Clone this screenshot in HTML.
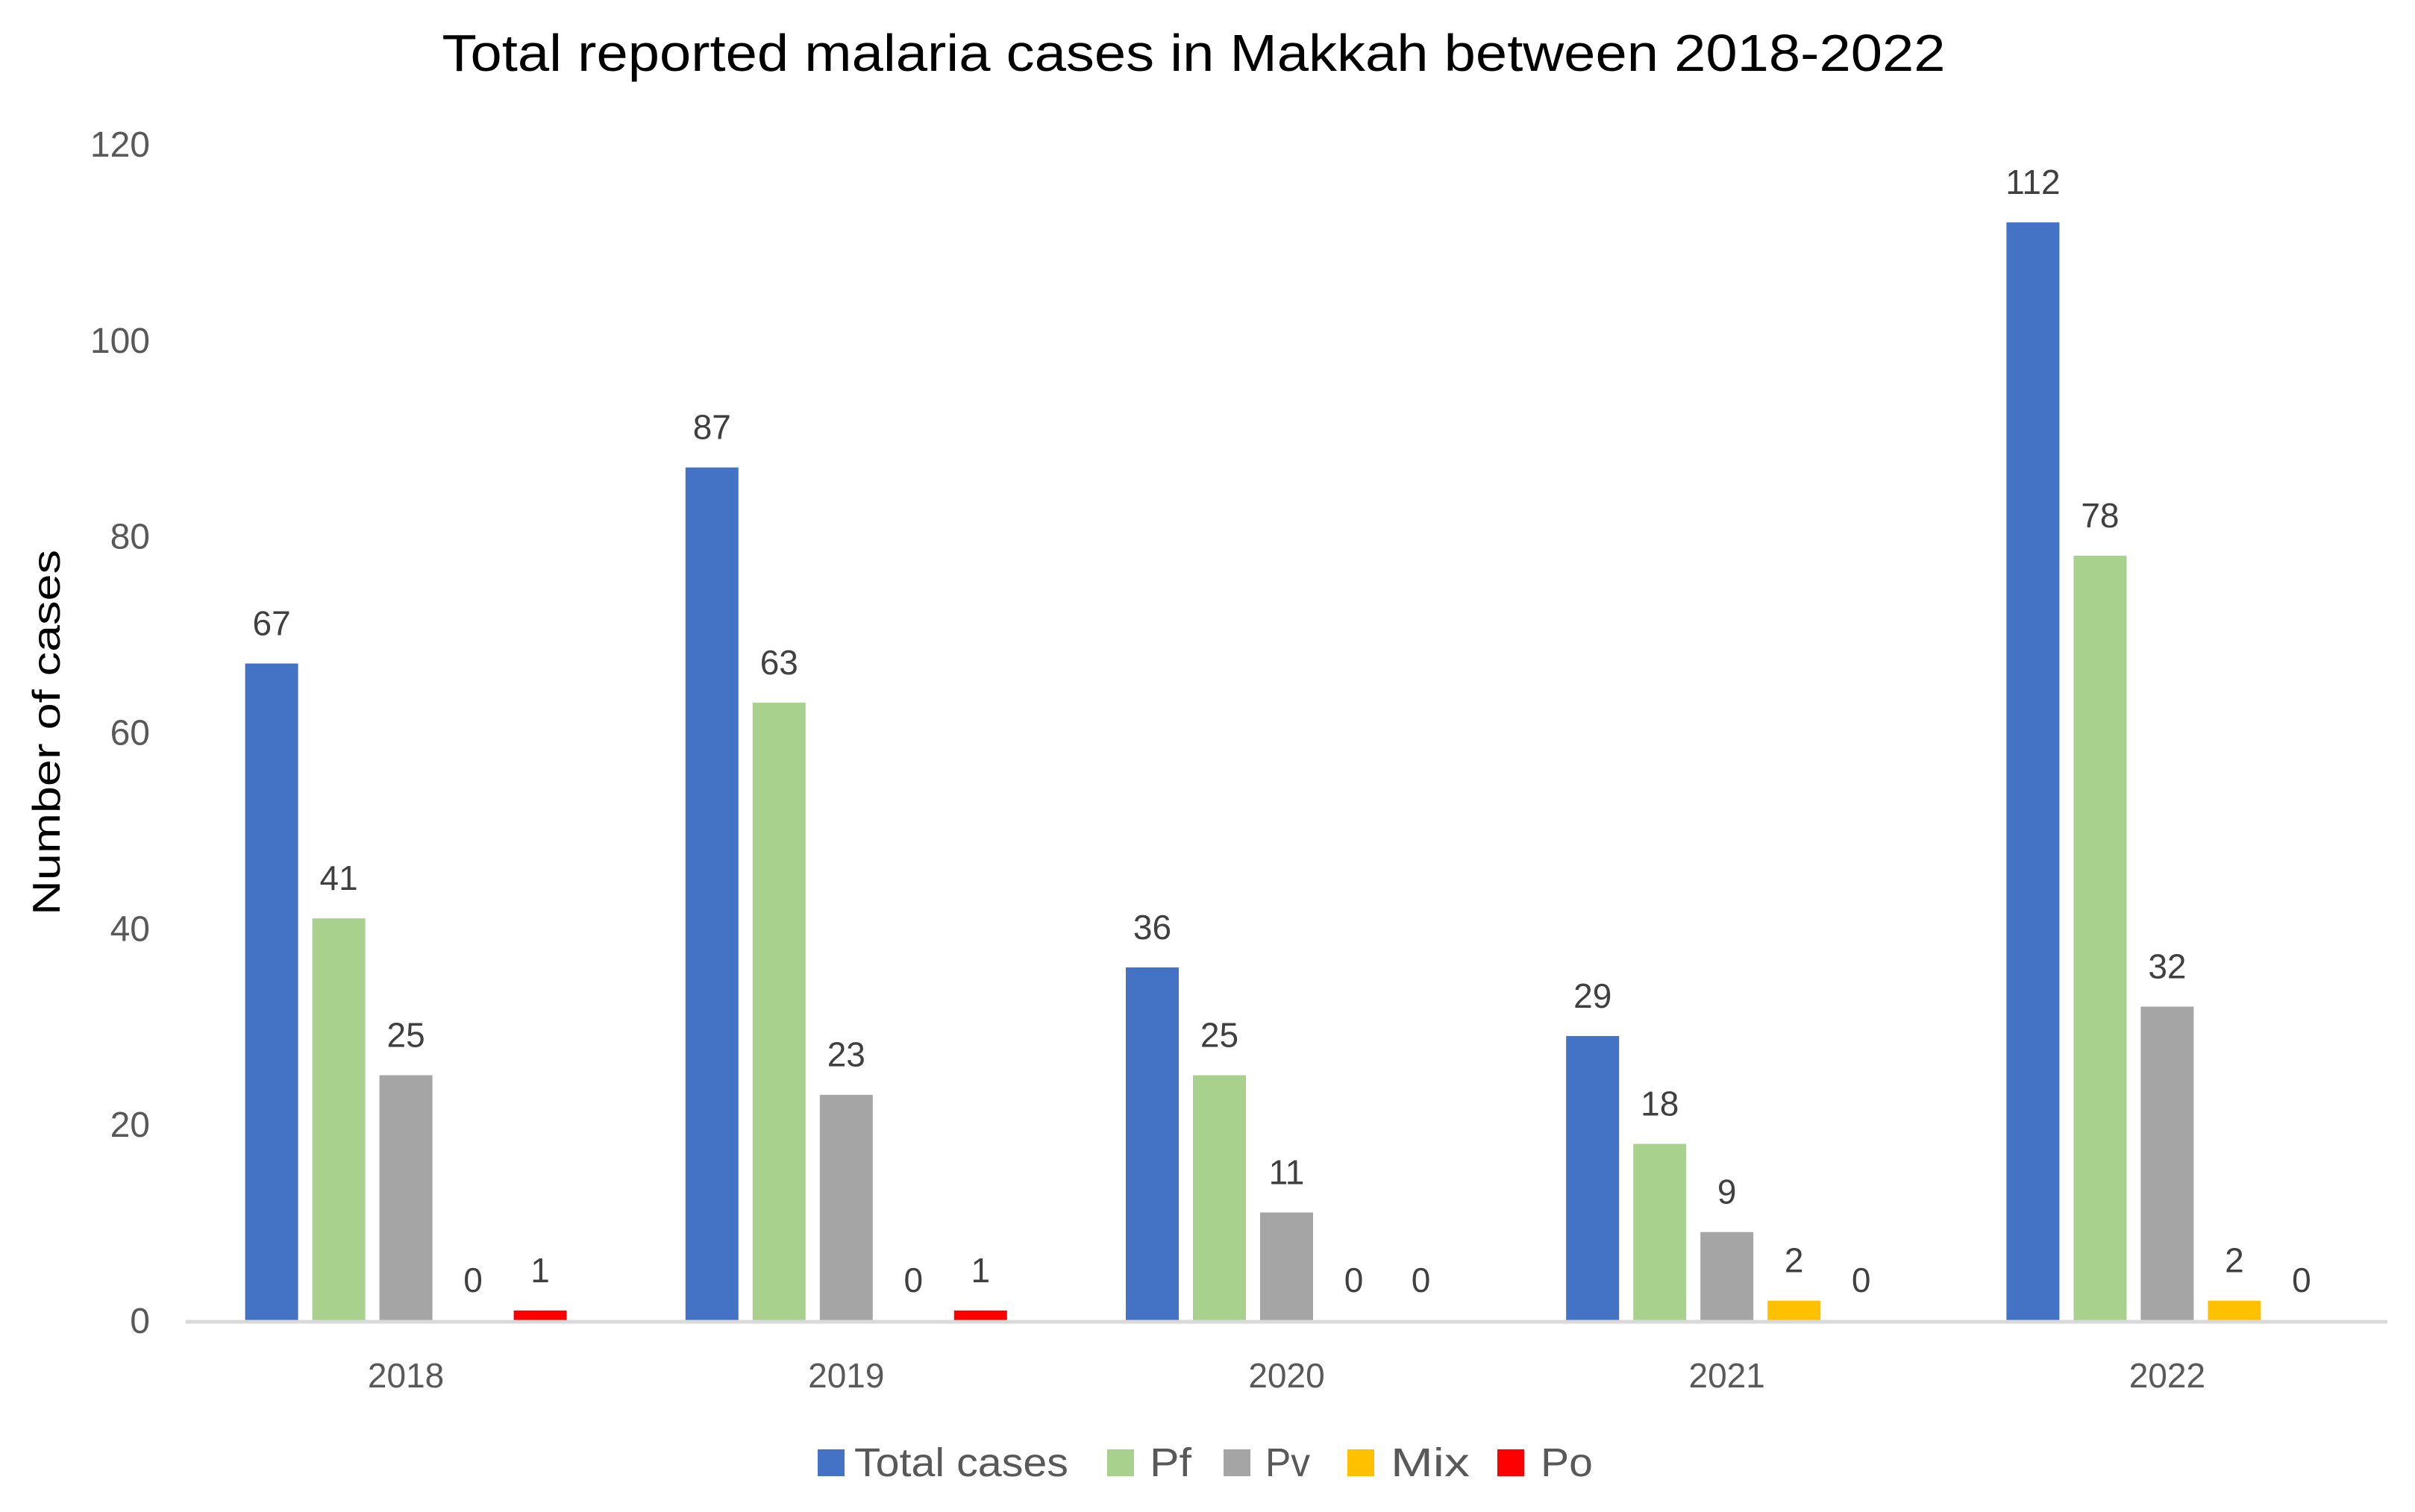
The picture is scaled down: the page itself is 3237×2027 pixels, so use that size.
<!DOCTYPE html>
<html><head><meta charset="utf-8"><style>
html,body{margin:0;padding:0;background:#fff;}
svg text{font-family:"Liberation Sans",sans-serif;}
</style></head><body>
<svg id="chart" width="3237" height="2022" viewBox="0 0 3237 2022" xmlns="http://www.w3.org/2000/svg">
<rect width="3237" height="2022" fill="#fff"/>
<text x="1600" y="95" text-anchor="middle" font-size="70" fill="#000" textLength="2015" lengthAdjust="spacingAndGlyphs">Total reported malaria cases in Makkah between 2018-2022</text>
<text transform="translate(80,982) rotate(-90)" text-anchor="middle" font-size="52" fill="#000" textLength="490" lengthAdjust="spacingAndGlyphs">Number of cases</text>
<g id="yticks"></g>
<g id="bars"></g>
<g id="labels"></g>
<line x1="249" y1="1772" x2="3200" y2="1772" stroke="#d9d9d9" stroke-width="5"/>
<g id="xticks"></g>
<g id="legend"></g>
</svg>
<script>
const categories = ["2018","2019","2020","2021","2022"];
const seriesNames = ["Total cases","Pf","Pv","Mix","Po"];
const totalCases = [67,87,36,29,112];
const pf = [41,63,25,18,78];
const pv = [25,23,11,9,32];
const mix = [0,0,0,2,2];
const po = [1,1,0,0,0];
const yTicks = [0,20,40,60,80,100,120];
const colors = ["#4472C4","#A9D18E","#A5A5A5","#FFC000","#FF0000"];
const series = [totalCases,pf,pv,mix,po];

const NS="http://www.w3.org/2000/svg";
const y0=1770, y120=193, xL=249, xR=3200;
function yScale(v){return y0-(v/120)*(y0-y120);}
const catW=(xR-xL)/categories.length;
function xCenter(i){return xL+catW*(i+0.5);}
const barStep=90, barW=71;
function mk(tag,attrs,parent){const e=document.createElementNS(NS,tag);for(const k in attrs)e.setAttribute(k,attrs[k]);parent.appendChild(e);return e;}

const yt=document.getElementById('yticks');
yTicks.forEach(v=>{
  const t=mk('text',{x:201,y:yScale(v)+17,'text-anchor':'end','font-size':48,fill:'#595959'},yt);
  
  
  t.textContent=v;
});
const bars=document.getElementById('bars'), labels=document.getElementById('labels');
categories.forEach((c,i)=>{
  series.forEach((s,j)=>{
    const v=s[i];
    const cx=xCenter(i)+(j-2)*barStep;
    const r=mk('rect',{x:cx-barW/2,y:yScale(v),width:barW,height:y0-yScale(v),fill:colors[j]},bars);
    
    
    const t=mk('text',{x:cx,y:yScale(v)-38,'text-anchor':'middle','font-size':46,fill:'#404040'},labels);
    
    
    t.textContent=v;
  });
  const t=mk('text',{x:xCenter(i),y:1860,'text-anchor':'middle','font-size':46,fill:'#595959'},document.getElementById('xticks'));
  
  
  t.textContent=c;
});
const lg=document.getElementById('legend');
const sqX=[1096,1484,1640,1806,2007], txX=[1145,1541,1696,1864,2065], txW=[287,56,60,106,70];
seriesNames.forEach((n,j)=>{
  const g=mk('g',{},lg);
  
  
  mk('rect',{x:sqX[j],y:1943,width:36,height:36,fill:colors[j]},g);
  const t=mk('text',{x:txX[j],y:1979,'font-size':54,fill:'#595959',textLength:txW[j],lengthAdjust:'spacingAndGlyphs'},g);
  t.textContent=n;
});
</script>
</body></html>
